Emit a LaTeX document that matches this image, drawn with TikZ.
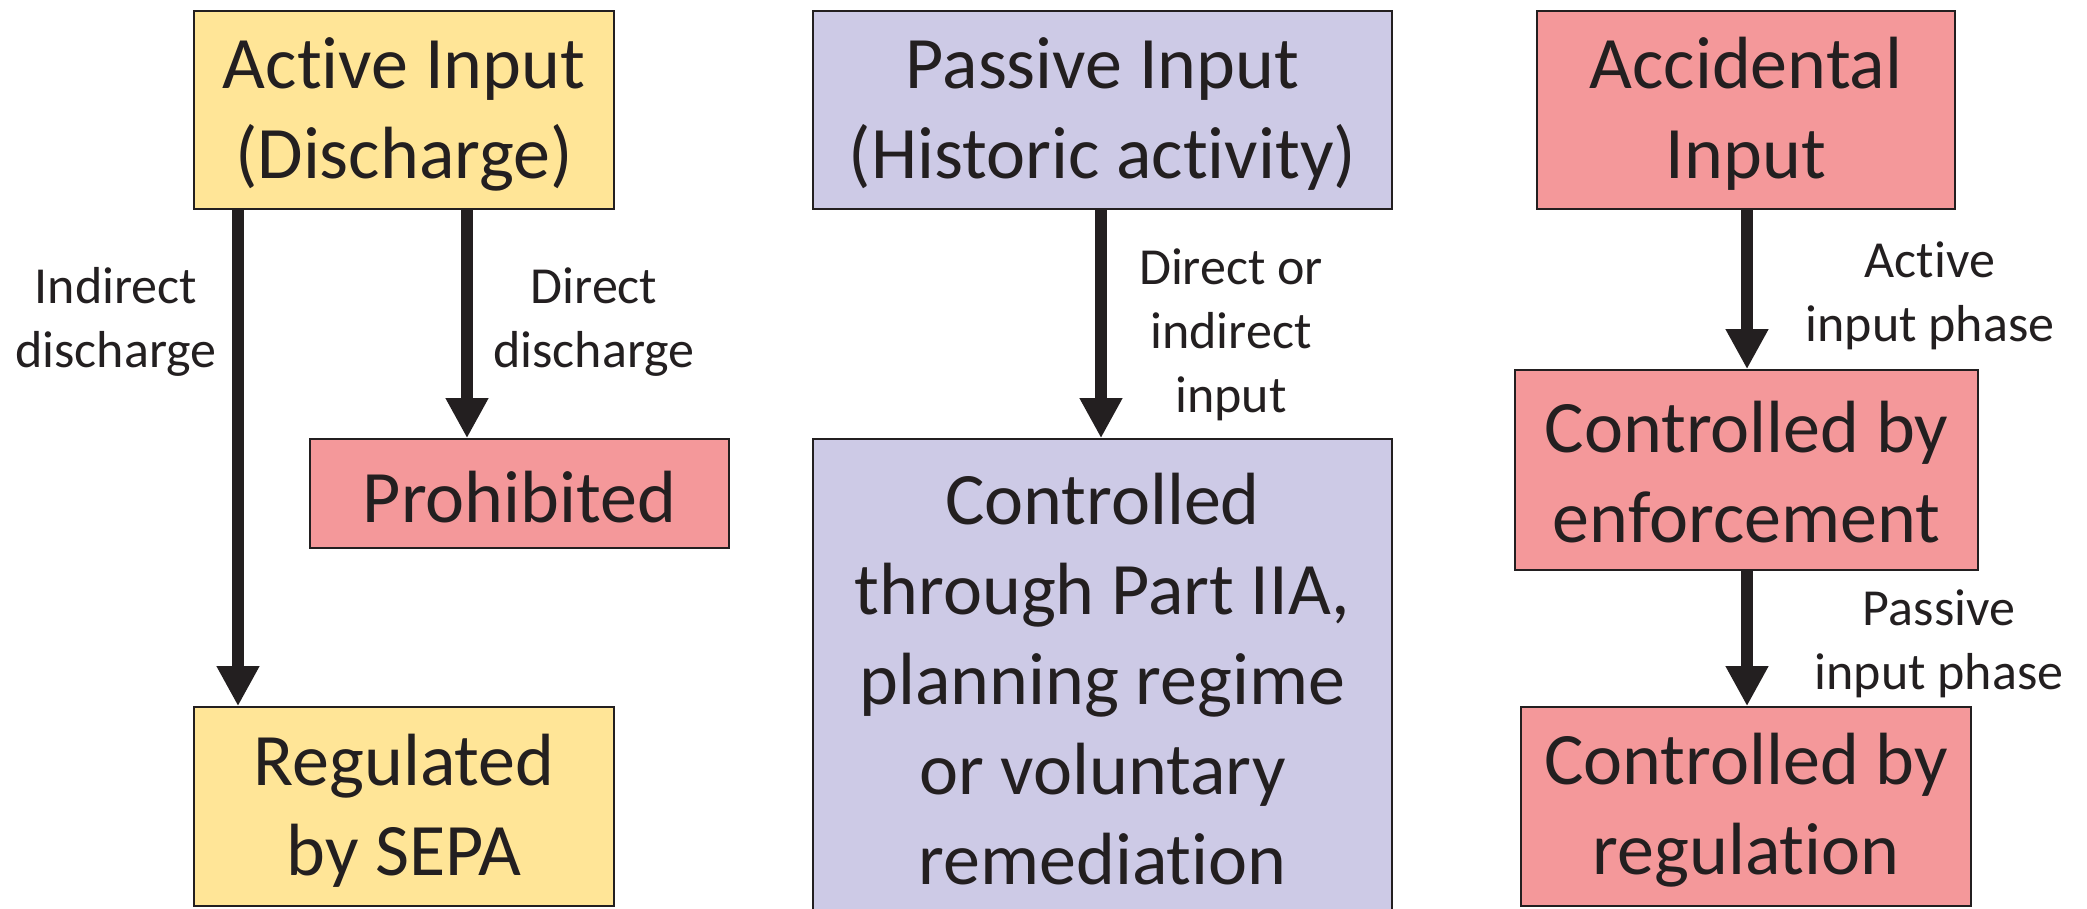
\documentclass[tikz,border=0pt]{standalone}
\usepackage{fontspec}
\setmainfont{Carlito}[Ligatures={NoCommon}]
\usetikzlibrary{arrows.meta}
\definecolor{yel}{HTML}{FFE597}
\definecolor{pnk}{HTML}{F4989A}
\definecolor{lav}{HTML}{CDCAE6}
\definecolor{ink}{HTML}{231F20}
\begin{document}
\begin{tikzpicture}[x=1pt,y=-1pt,
  box/.style={draw=ink, line width=1.6pt, inner sep=0pt},
  boxtext/.style={text=ink, align=center, font=\fontsize{74}{90}\selectfont,
    inner sep=0pt, yshift=-4pt},
  lab/.style={text=ink, align=center, font=\fontsize{52}{64}\selectfont, inner sep=0pt},
  arr/.style={draw=ink, line width=12pt, -{Triangle[width=40pt,length=40pt]}}]
\useasboundingbox (0,0) rectangle (2087,908);
\clip (0,0) rectangle (2087,908);
% boxes
\node[box, fill=yel, minimum width=420pt, minimum height=198pt,
  label={[boxtext]center:{Active Input\\(Discharge)}}] (act) at (404,110) {};
\node[box, fill=pnk, minimum width=419pt, minimum height=109pt,
  label={[boxtext]center:{Prohibited}}] (pro) at (519.5,493.5) {};
\node[box, fill=yel, minimum width=420pt, minimum height=199pt,
  label={[boxtext]center:{Regulated\\by SEPA}}] (reg) at (404,806.5) {};
\node[box, fill=lav, minimum width=579pt, minimum height=198pt,
  label={[boxtext]center:{Passive Input\\(Historic activity)}}] (pas) at (1102.5,110) {};
\node[box, fill=lav, minimum width=579pt, minimum height=472pt,
  label={[boxtext]center:{Controlled\\through Part IIA,\\planning regime\\or voluntary\\remediation}}] (ctl) at (1102.5,675) {};
\node[box, fill=pnk, minimum width=418pt, minimum height=198pt,
  label={[boxtext]center:{Accidental\\Input}}] (acc) at (1746,110) {};
\node[box, fill=pnk, minimum width=463pt, minimum height=200pt,
  label={[boxtext, yshift=2pt]center:{Controlled by\\enforcement}}] (enf) at (1746.5,470) {};
\node[box, fill=pnk, minimum width=450pt, minimum height=199pt,
  label={[boxtext]center:{Controlled by\\regulation}}] (rgl) at (1746,806.5) {};
% arrow columns
\coordinate (xa) at (238,0);
\coordinate (xb) at (467,0);
\coordinate (xc) at (1101,0);
\coordinate (xd) at (1747,0);
\draw[arr] (act.south -| xa) -- (reg.north -| xa);
\draw[arr] (act.south -| xb) -- (pro.north -| xb);
\draw[arr] (pas.south -| xc) -- (ctl.north -| xc);
\draw[arr] (acc.south -| xd) -- (enf.north -| xd);
\draw[arr] (enf.south -| xd) -- (rgl.north -| xd);
% labels
\node[lab] (l1) at (116,322) {Indirect\\discharge};
\node[lab] (l2) at (594,322) {Direct\\discharge};
\node[lab] (l3) at (1231,335) {Direct or\\indirect\\input};
\node[lab] (l4) at (1930,296) {Active\\input phase};
\node[lab] (l5) at (1939,644) {Passive\\input phase};
\end{tikzpicture}
\end{document}
